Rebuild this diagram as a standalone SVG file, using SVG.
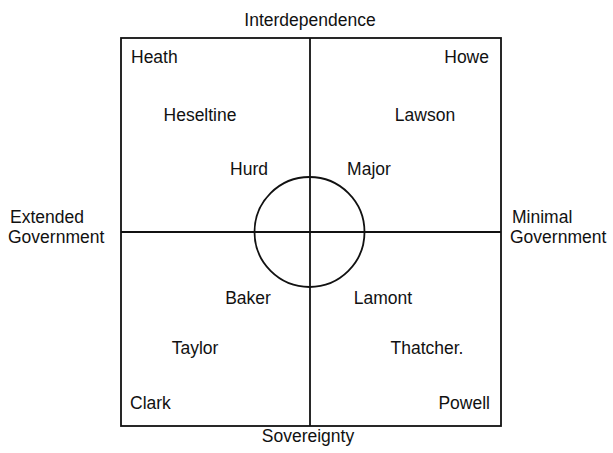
<svg xmlns="http://www.w3.org/2000/svg" width="613" height="453" viewBox="0 0 613 453">
<style>
text{font-family:"Liberation Sans",Arial,sans-serif;font-size:17.5px;fill:#111}
.m{text-anchor:middle}
.e{text-anchor:end}
.ln{stroke:#111;stroke-width:1.8;fill:none}
</style>
<rect width="613" height="453" fill="#fff"/>
<g id="frame">
<rect class="ln" x="121" y="38" width="380" height="388" stroke-width="2"/>
</g>
<g id="connectors">
<line class="ln" x1="310" y1="38" x2="310" y2="426"/>
<line class="ln" x1="121" y1="232" x2="501" y2="232"/>
</g>
<g id="centre-circle">
<circle class="ln" cx="309.5" cy="232" r="55"/>
</g>
<g id="axis-top"><text class="m" x="310" y="26">Interdependence</text></g>
<g id="axis-bottom"><text class="m" x="308" y="442">Sovereignty</text></g>
<g id="axis-left"><text x="10" y="223">Extended</text><text x="8" y="243">Government</text></g>
<g id="axis-right"><text x="512" y="223">Minimal</text><text x="510" y="243">Government</text></g>
<g id="heath"><text x="131" y="63">Heath</text></g>
<g id="howe"><text class="e" x="489" y="63">Howe</text></g>
<g id="heseltine"><text class="m" x="200" y="121">Heseltine</text></g>
<g id="lawson"><text class="m" x="425" y="121">Lawson</text></g>
<g id="hurd"><text class="m" x="249" y="175">Hurd</text></g>
<g id="major"><text class="m" x="369" y="175">Major</text></g>
<g id="baker"><text class="m" x="248" y="304">Baker</text></g>
<g id="lamont"><text class="m" x="383" y="304">Lamont</text></g>
<g id="taylor"><text class="m" x="195" y="354">Taylor</text></g>
<g id="thatcher"><text class="m" x="427" y="354">Thatcher.</text></g>
<g id="clark"><text x="130" y="409">Clark</text></g>
<g id="powell"><text class="e" x="490" y="409">Powell</text></g>
</svg>
